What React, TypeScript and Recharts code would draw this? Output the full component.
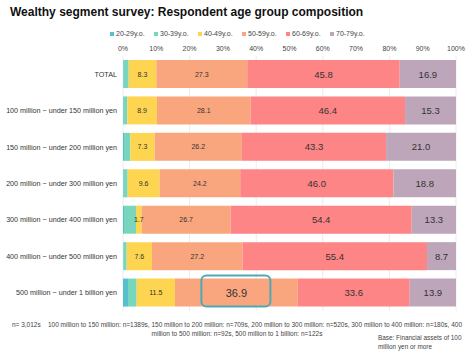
import React from 'react';
import { BarChart, Bar, XAxis, YAxis, CartesianGrid, LabelList } from 'recharts';

const categories = [
  'TOTAL',
  '100 million ~ under 150 million yen',
  '150 million ~ under 200 million yen',
  '200 million ~ under 300 million yen',
  '300 million ~ under 400 million yen',
  '400 million ~ under 500 million yen',
  '500 million ~ under 1 billion yen',
];
const age20s = [0.2, 0.2, 0.3, 0.2, 0.3, 0.1, 1.5];
const age30s = [1.5, 1.1, 1.9, 1.2, 3.6, 1.0, 2.6];
const age40s = [8.3, 8.9, 7.3, 9.6, 1.7, 7.6, 11.5];
const age50s = [27.3, 28.1, 26.2, 24.2, 26.7, 27.2, 36.9];
const age60s = [45.8, 46.4, 43.3, 46.0, 54.4, 55.4, 33.6];
const age70s = [16.9, 15.3, 21.0, 18.8, 13.3, 8.7, 13.9];
const xTicks = [0, 10, 20, 30, 40, 50, 60, 70, 80, 90, 100];
const highlightIndex = 6;

const series = [
  { key: 'a20', name: '20-29y.o.', values: age20s, color: '#56bfd0', label: 0 },
  { key: 'a30', name: '30-39y.o.', values: age30s, color: '#78d6bd', label: 0 },
  { key: 'a40', name: '40-49y.o.', values: age40s, color: '#fdd550', label: 7 },
  { key: 'a50', name: '50-59y.o.', values: age50s, color: '#f9a67f', label: 7 },
  { key: 'a60', name: '60-69y.o.', values: age60s, color: '#fe8585', label: 9.5 },
  { key: 'a70', name: '70-79y.o.', values: age70s, color: '#bea6ba', label: 9.5 },
];

const data = categories.map((name, i) => {
  const row: Record<string, string | number> = { name };
  series.forEach((s) => {
    row[s.key] = s.values[i];
  });
  return row;
});

const font = '"Liberation Sans", Arial, sans-serif';

const makeLabel = (size: number, highlight: boolean) => (props: any) => {
  const { x, y, width, height, value, index } = props;
  const cx = Number(x) + Number(width) / 2;
  const cy = Number(y) + Number(height) / 2;
  const isHi = highlight && index === highlightIndex;
  return (
    <g>
      {isHi && (
        <rect
          x={cx - 35}
          y={cy - 17}
          width={69}
          height={31}
          rx={5}
          fill="none"
          stroke="#4ea9b7"
          strokeWidth={2}
        />
      )}
      <text
        x={cx}
        y={cy}
        textAnchor="middle"
        dominantBaseline="central"
        fontSize={isHi ? 11 : size}
        fill="#333"
        fontFamily={font}
      >
        {Number(value).toFixed(1)}
      </text>
    </g>
  );
};

const CategoryTick = (props: any) => {
  const { x, y, payload } = props;
  return (
    <text
      x={x}
      y={y}
      textAnchor="end"
      dominantBaseline="central"
      fontSize={7.2}
      fill="#333"
      fontFamily={font}
    >
      {payload.value}
    </text>
  );
};

const App = () => {
  return (
    <div
      style={{
        position: 'absolute',
        left: 0,
        top: 0,
        width: 474,
        height: 354,
        background: '#fff',
        fontFamily: font,
        color: '#333',
      }}
    >
      <div
        style={{
          position: 'absolute',
          left: 10,
          top: 5,
          fontSize: 12,
          fontWeight: 'bold',
          color: '#111',
          whiteSpace: 'nowrap',
        }}
      >
        Wealthy segment survey: Respondent age group composition
      </div>
      <div
        style={{
          position: 'absolute',
          left: 110,
          top: 30,
          display: 'flex',
          fontSize: 7,
          color: '#444',
          whiteSpace: 'nowrap',
        }}
      >
        {series.map((s) => (
          <div key={s.key} style={{ display: 'flex', alignItems: 'center', width: 44 }}>
            <span style={{ width: 4, height: 4, background: s.color, marginRight: 2 }} />
            {s.name}
          </div>
        ))}
      </div>
      <BarChart
        width={474}
        height={354}
        data={data}
        layout="vertical"
        margin={{ top: 36, right: 18, left: 0, bottom: 43 }}
        barSize={28}
      >
        <CartesianGrid horizontal={false} stroke="#ececec" />
        <XAxis
          type="number"
          orientation="top"
          domain={[0, 100]}
          ticks={xTicks}
          tickFormatter={(v) => `${v}%`}
          height={20}
          tickSize={0}
          tickMargin={5}
          axisLine={false}
          tickLine={false}
          tick={{ fontSize: 7, fill: '#444', fontFamily: font }}
          allowDataOverflow
        />
        <YAxis
          type="category"
          dataKey="name"
          width={123}
          tickSize={0}
          tickMargin={6}
          axisLine={false}
          tickLine={false}
          interval={0}
          tick={<CategoryTick />}
        />
        {series.map((s) => (
          <Bar
            key={s.key}
            dataKey={s.key}
            name={s.name}
            stackId="age"
            fill={s.color}
            isAnimationActive={false}
          >
            {s.label > 0 && (
              <LabelList dataKey={s.key} content={makeLabel(s.label, s.key === 'a50')} />
            )}
          </Bar>
        ))}
      </BarChart>
      <div
        style={{
          position: 'absolute',
          left: 0,
          top: 320,
          width: 474,
          fontSize: 6.5,
          lineHeight: '9px',
          textAlign: 'center',
          color: '#444',
          whiteSpace: 'nowrap',
        }}
      >
        n= 3,012s&nbsp;&nbsp;&nbsp;&nbsp;100 million to 150 million: n=1389s, 150 million to 200 million: n=709s, 200
        million to 300 million: n=520s, 300 million to 400 million: n=180s, 400
        <br />
        million to 500 million: n=92s, 500 million to 1 billion: n=122s
      </div>
      <div
        style={{
          position: 'absolute',
          left: 378,
          top: 333,
          fontSize: 6.4,
          lineHeight: '9px',
          color: '#444',
          whiteSpace: 'nowrap',
        }}
      >
        Base: Financial assets of 100
        <br />
        million yen or more
      </div>
    </div>
  );
};

export default App;
